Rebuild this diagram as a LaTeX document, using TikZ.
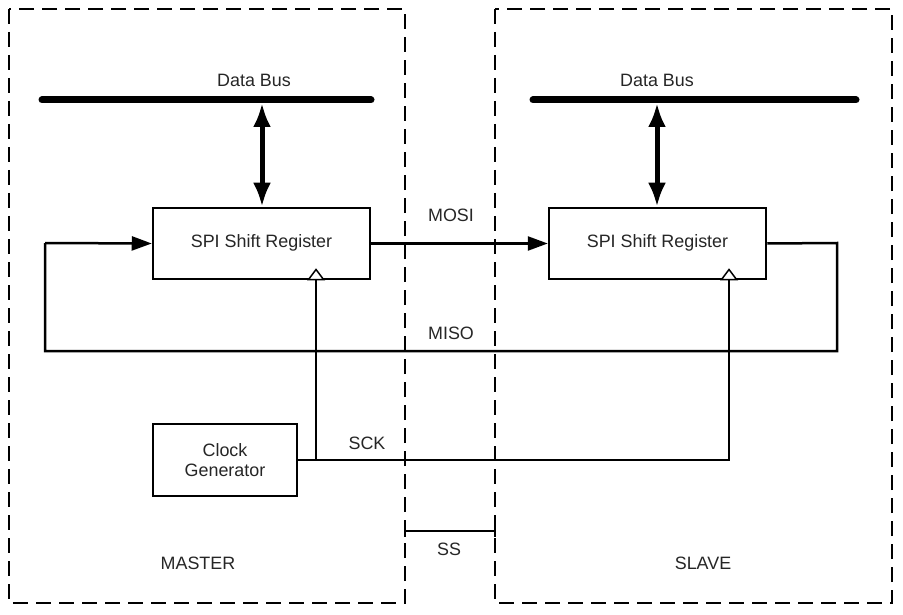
\documentclass[tikz,border=0pt]{standalone}
\usepackage{fontspec}
\setmainfont{Liberation Sans}
\usetikzlibrary{arrows.meta,calc}
\begin{document}
\begin{tikzpicture}[x=1pt,y=-1pt,
  frame/.style={draw=black,line width=2.5pt,dash pattern=on 15pt off 8pt},
  wire/.style={draw=black,line width=2.5pt},
  bus/.style={draw=black,line width=7pt,line cap=round},
  dbl/.style={draw=black,line width=5pt,{Latex[length=24pt,width=18pt]}-{Latex[length=24pt,width=18pt]}},
  blk/.style={draw=black,line width=2.5pt,fill=white,inner sep=0pt},
  lbl/.style={font=\fontsize{17.9}{20.5}\selectfont,inner sep=0pt,text=black!85},
  arr/.style={wire,-{Triangle[length=20pt,width=14pt]}},
  clk/.style={draw=black,line width=1.5pt,fill=white}
]
\useasboundingbox (0,0) rectangle (903,615);
% frames
\draw[frame] (9,9) rectangle (405,603);
\draw[frame] (495,9) rectangle (892,603);
% buses
\coordinate (mb1) at (42,100); \coordinate (mb2) at (371,100);
\coordinate (sb1) at (533,100); \coordinate (sb2) at (856,100);
\draw[bus] (mb1) -- (mb2);
\draw[bus] (sb1) -- (sb2);
\node[lbl] (mdb) at (254,80) {Data Bus};
\node[lbl] (sdb) at (657,80) {Data Bus};
% blocks
\node[blk,minimum width=217pt,minimum height=71pt] (msr) at (261.5,243.5) {};
\node[blk,minimum width=217pt,minimum height=71pt] (ssr) at (657.5,243.5) {};
\node[lbl] at (261.5,243) {SPI Shift Register};
\node[lbl] at (657.5,243) {SPI Shift Register};
\node[blk,minimum width=144pt,minimum height=72pt,align=center,lbl,draw=black,line width=1.8pt] (cg) at (225,460) {Clock\\[-1pt]Generator};
% data bus arrows
\coordinate (mbt) at (262,103); \coordinate (sbt) at (657,103);
\draw[dbl] (mbt) -- (msr.north -| mbt);
\draw[dbl] (sbt) -- (ssr.north -| sbt);
% MOSI
\draw[arr] (msr.east) -- (ssr.west);
\node[lbl] (mosi) at (451,215) {MOSI};
% MISO loop
\coordinate (m1) at (837,243); \coordinate (m2) at (837,351); \coordinate (m3) at (45,351); \coordinate (m4) at (45,243);
\draw[wire] (ssr.east) -- (m1) -- (m2) -- (m3) -- (m4);
\draw[arr] (m4) -- (msr.west);
\node[lbl] (miso) at (451,333) {MISO};
% SCK
\coordinate (mck) at (316,279.5); \coordinate (sck) at (729,279.5);
\coordinate (j1) at (316,460); \coordinate (j2) at (729,460);
\draw[wire] (cg.east) -- (j2) -- (sck);
\draw[wire] (j1) -- (mck);
\draw[clk] ($(mck)+(-7.5,0)$) -- ($(mck)+(0,-10)$) -- ($(mck)+(7.5,0)$) -- cycle;
\draw[clk] ($(sck)+(-7.5,0)$) -- ($(sck)+(0,-10)$) -- ($(sck)+(7.5,0)$) -- cycle;
\node[lbl] (sckl) at (367,443) {SCK};
% SS
\coordinate (ss1) at (405,531); \coordinate (ss2) at (495,531);
\draw[wire] (ss1) -- (ss2);
\draw[wire] ($(ss1)+(0,-6)$) -- ($(ss1)+(0,6)$);
\draw[wire] ($(ss2)+(0,-6)$) -- ($(ss2)+(0,6)$);
\node[lbl] (ssl) at (449,549) {SS};
% labels
\node[lbl] (master) at (198,563) {MASTER};
\node[lbl] (slave) at (703,563) {SLAVE};
\end{tikzpicture}
\end{document}
